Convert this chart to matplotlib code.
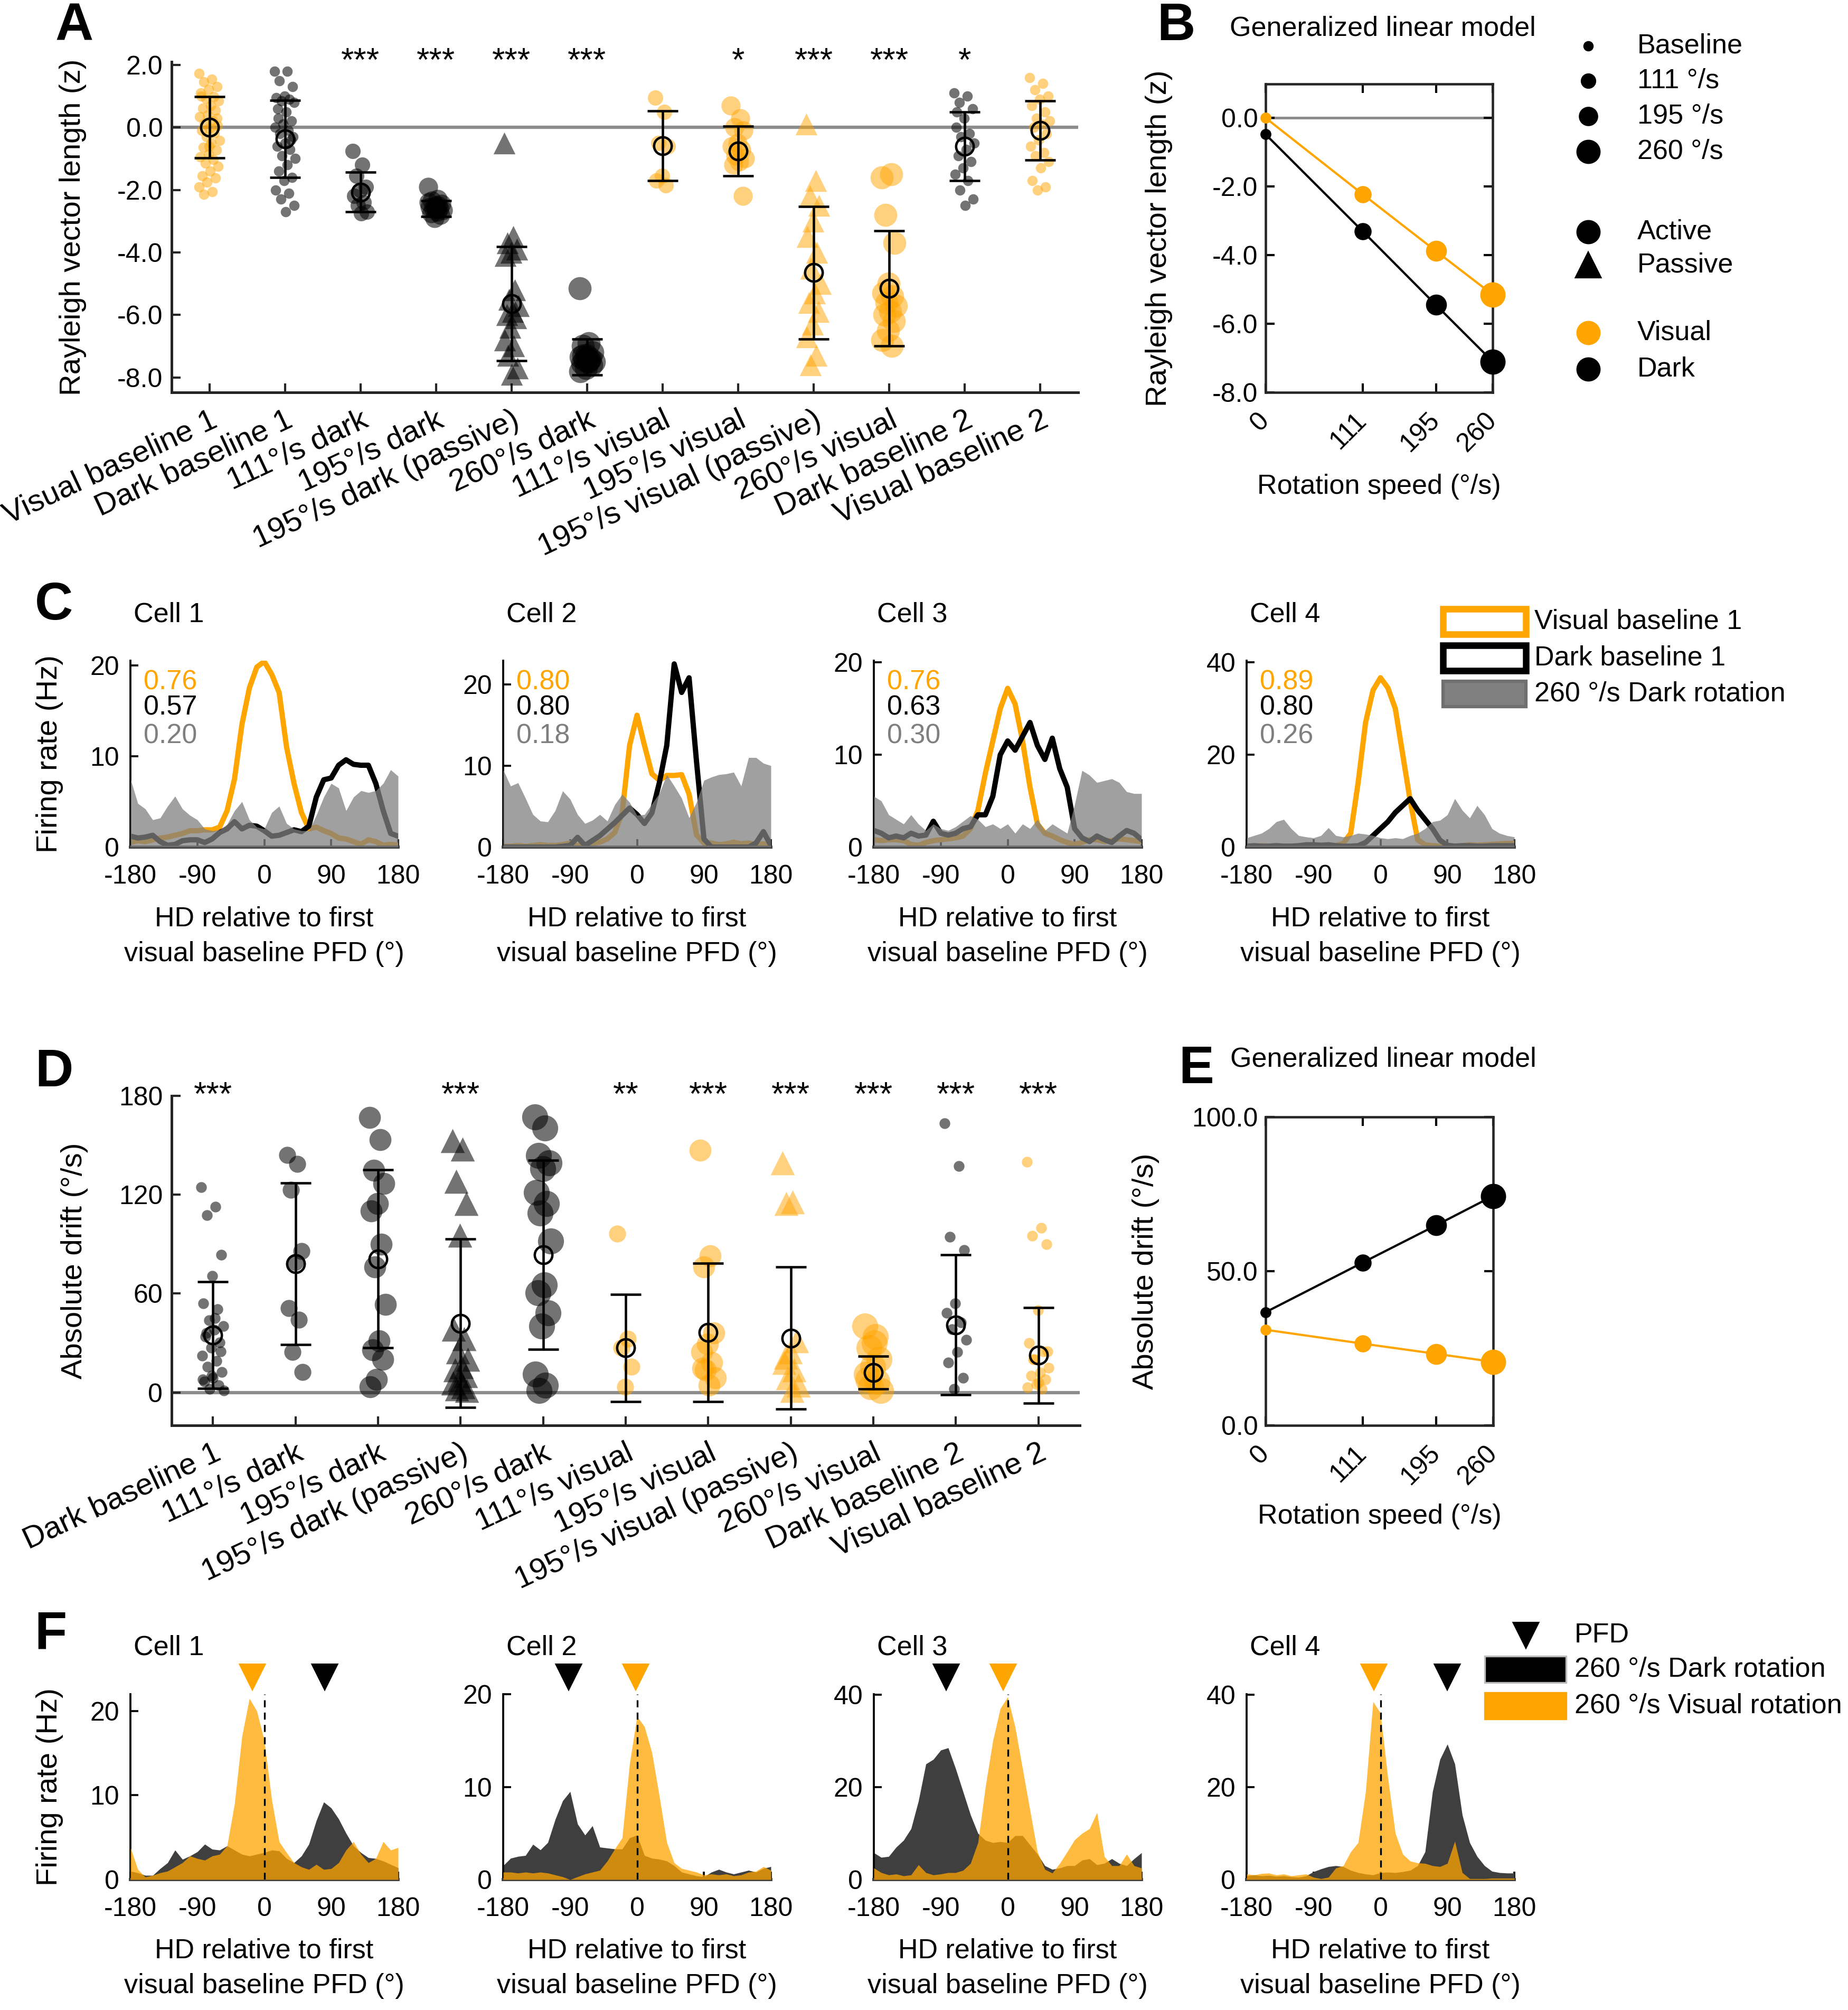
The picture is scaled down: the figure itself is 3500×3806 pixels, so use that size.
import numpy as np
import matplotlib
matplotlib.use("Agg")
import matplotlib.pyplot as plt
from matplotlib.lines import Line2D
from matplotlib.patches import Rectangle
from matplotlib.transforms import ScaledTranslation, blended_transform_factory

plt.rcParams['font.family'] = ['Liberation Sans', 'DejaVu Sans']
plt.rcParams['font.size'] = 12
plt.rcParams['axes.unicode_minus'] = False

ORANGE = '#FFA500'
AXC = '#262626'

# ---------------- panel A: Rayleigh vector length per condition
a_labels = ['Visual baseline 1', 'Dark baseline 1', '111°/s dark', '195°/s dark',
            '195°/s dark (passive)', '260°/s dark', '111°/s visual', '195°/s visual',
            '195°/s visual (passive)', '260°/s visual', 'Dark baseline 2', 'Visual baseline 2']
a_points = [
    [1.72, 1.55, 1.45, 1.3, 1.22, 1.1, 0.98, 0.92, 0.85, 0.7, 0.62, 0.55, 0.4, 0.35, 0.2, 0.12,
     0.05, -0.02, -0.1, -0.18, -0.3, -0.42, -0.5, -0.63, -0.72, -0.85, -0.95, -1.02, -1.15,
     -1.25, -1.4, -1.55, -1.62, -1.75, -1.9, -2.05, -2.15, 0.3, -0.6, 1.0],
    [1.8, 1.8, 1.5, 1.3, 1.0, 0.95, 0.9, 0.85, 0.8, 0.5, 0.3, 0.2, 0.1, 0.0, -0.1, -0.2, -0.3,
     -0.5, -0.6, -0.7, -0.9, -1.0, -1.2, -1.4, -1.6, -1.7, -2.0, -2.1, -2.3, -2.5, -2.7, 0.6, -0.4],
    [-0.75, -1.2, -1.55, -1.9, -2.0, -2.2, -2.4, -2.5, -2.7, -2.75],
    [-1.9, -2.3, -2.35, -2.45, -2.5, -2.55, -2.6, -2.6, -2.65, -2.7, -2.75, -2.8, -2.9, -2.4, -2.5],
    [-0.5, -3.5, -3.7, -3.9, -4.0, -4.1, -5.2, -5.5, -5.7, -5.9, -6.0, -6.1, -6.4, -6.8, -7.0,
     -7.3, -7.7, -7.9],
    [-5.15, -6.9, -7.0, -7.2, -7.3, -7.35, -7.4, -7.45, -7.5, -7.5, -7.55, -7.6, -7.7, -7.8,
     -7.45, -7.3],
    [0.95, 0.5, -0.5, -0.6, -1.55, -1.7, -1.85],
    [0.7, 0.3, 0.0, -0.1, -0.5, -0.6, -0.7, -0.9, -1.0, -1.1, -1.2, -2.2],
    [0.1, -1.7, -2.2, -2.5, -3.0, -3.5, -4.0, -4.5, -5.0, -5.3, -5.6, -5.9, -6.3, -6.7, -7.3, -7.6],
    [-1.6, -1.5, -2.8, -3.7, -5.0, -5.3, -5.4, -5.6, -5.7, -5.9, -6.0, -6.2, -6.5, -6.8, -7.0],
    [1.1, 1.0, 0.8, 0.6, 0.3, 0.0, -0.2, -0.3, -0.5, -0.7, -0.9, -1.1, -1.3, -1.5, -1.7, -2.0,
     -2.3, -2.5, 0.5],
    [1.6, 1.4, 1.2, 1.0, 0.9, 0.7, 0.5, 0.3, 0.2, 0.1, 0.0, -0.2, -0.4, -0.6, -0.8, -0.9, -1.1,
     -1.3, -1.7, -1.9, -2.0],
]
a_means = [0.0, -0.37, -2.07, -2.6, -5.64, -7.35, -0.59, -0.76, -4.65, -5.15, -0.6, -0.1]
a_sds = [0.98, 1.23, 0.63, 0.25, 1.82, 0.57, 1.11, 0.79, 2.12, 1.85, 1.1, 0.95]
a_stars = ['', '', '***', '***', '***', '***', '', '*', '***', '***', '*', '']
a_cond = ['vb', 'db', 'd111', 'd195', 'd195p', 'd260', 'v111', 'v195', 'v195p', 'v260', 'db', 'vb']

# ---------------- panel B: GLM fit
speeds = [0, 111, 195, 260]
b_visual = [0.0, -2.22, -3.88, -5.15]
b_dark = [-0.48, -3.3, -5.45, -7.1]

# ---------------- panel C: tuning curves, 10 deg bins
angles = np.arange(-180, 181, 10)
c_visual = [
    [0.5, 0.7, 0.6, 0.8, 1.0, 1.1, 1.3, 1.5, 1.8, 1.8, 1.9, 1.9, 2.2, 4.0, 7.5, 13.5, 17.5, 19.8,
     20.4, 19.0, 17.0, 11.0, 7.0, 3.8, 2.0, 2.2, 1.8, 1.5, 1.0, 0.9, 0.6, 0.3, 0.8, 0.6, 0.2, 0.3, 0.2],
    [0.1, 0.1, 0.2, 0.1, 0.2, 0.3, 0.2, 0.2, 0.3, 0.5, 0.2, 0.3, 0.5, 0.6, 1.0, 1.8, 4.2, 12.5,
     16.2, 12.5, 9.0, 8.2, 8.8, 8.8, 8.9, 6.5, 1.5, 0.5, 0.5, 0.3, 0.4, 0.6, 0.4, 0.5, 0.3, 0.4, 0.2],
    [0.8, 0.7, 0.8, 0.8, 0.7, 0.3, 0.2, 0.5, 0.7, 0.8, 0.9, 1.0, 1.2, 2.0, 4.0, 8.0, 11.5, 15.0,
     17.2, 15.5, 11.5, 6.5, 2.5, 1.5, 1.2, 0.8, 0.5, 0.3, 0.5, 0.8, 0.8, 0.6, 0.7, 0.9, 0.8, 0.7, 0.6],
    [0.3, 0.0, 0.3, 0.2, 0.3, 0.2, 0.2, 0.3, 0.2, 0.3, 0.2, 0.3, 0.3, 0.8, 3.0, 14.0, 27.0, 34.0,
     36.7, 34.5, 30.0, 20.0, 10.0, 1.6, 0.5, 0.3, 0.2, 0.0, 0.2, 0.3, 0.5, 0.4, 0.5, 0.6, 0.7, 0.8, 0.8],
]
c_dark = [
    [1.2, 1.0, 1.1, 1.3, 0.6, 0.2, 0.3, 0.7, 0.8, 0.8, 0.5, 0.9, 1.6, 2.0, 2.8, 2.0, 2.4, 2.3,
     1.8, 1.2, 1.3, 1.6, 1.9, 1.7, 2.3, 5.5, 7.4, 7.6, 9.0, 9.6, 9.1, 9.0, 9.0, 7.0, 4.0, 1.5, 1.2],
    [0.0, 0.0, 0.0, 0.0, 0.0, 0.0, 0.0, 0.0, 0.1, 0.2, 1.2, 0.2, 0.8, 1.4, 2.2, 3.0, 3.9, 4.8,
     4.0, 2.9, 4.2, 7.9, 12.5, 22.5, 19.0, 20.8, 10.5, 1.0, 0.0, 0.0, 0.0, 0.0, 0.0, 0.0, 0.5, 1.9, 0.2],
    [1.8, 1.5, 1.0, 1.2, 1.0, 1.5, 1.2, 1.3, 2.8, 1.5, 1.3, 1.5, 2.0, 2.2, 3.5, 3.5, 5.5, 10.0,
     11.5, 10.5, 12.0, 13.5, 11.0, 9.5, 11.8, 8.5, 6.5, 2.0, 1.0, 0.6, 1.2, 0.8, 0.5, 1.2, 1.8, 1.5, 0.8],
    [0.2, 0.3, 0.2, 0.2, 0.3, 0.2, 0.2, 0.3, 0.5, 0.5, 0.4, 0.5, 0.3, 0.2, 0.2, 0.3, 1.0, 2.5,
     4.0, 5.5, 7.5, 9.0, 10.5, 8.0, 6.0, 4.0, 1.5, 0.4, 0.2, 0.3, 0.3, 0.2, 0.2, 0.3, 0.3, 0.3, 0.3],
]
c_rot = [
    [7.5, 4.8, 4.2, 3.0, 3.2, 4.5, 5.6, 4.2, 3.5, 3.0, 2.0, 1.8, 1.9, 2.5, 4.0, 5.0, 3.0, 2.2,
     2.0, 3.8, 4.5, 2.6, 2.0, 1.8, 1.8, 3.5, 5.5, 7.0, 6.5, 4.0, 5.5, 6.2, 6.0, 6.2, 7.0, 8.5, 7.8],
    [9.5, 7.5, 7.9, 6.0, 4.0, 3.2, 3.1, 4.5, 6.9, 5.9, 4.0, 2.9, 3.3, 4.0, 3.2, 5.2, 6.5, 5.5,
     3.9, 4.0, 5.3, 6.6, 8.9, 7.5, 6.0, 3.6, 5.5, 8.2, 8.6, 8.9, 9.0, 9.2, 7.5, 11.0, 11.0, 10.3, 10.0],
    [5.5, 5.0, 3.5, 3.0, 2.5, 3.5, 2.5, 1.8, 2.5, 2.0, 1.8, 2.2, 2.8, 3.4, 3.0, 2.2, 2.5, 2.0,
     2.5, 1.5, 2.5, 2.0, 3.0, 1.8, 2.5, 2.0, 1.5, 4.6, 8.3, 7.8, 7.0, 7.2, 7.4, 7.0, 6.0, 5.8, 5.8],
    [2.0, 2.5, 3.0, 4.0, 5.5, 6.0, 4.0, 2.5, 2.2, 2.0, 2.5, 4.2, 2.5, 2.2, 2.5, 3.0, 2.8, 2.5,
     2.0, 1.8, 2.0, 1.8, 2.5, 3.0, 4.0, 5.5, 5.8, 7.0, 10.5, 8.0, 6.3, 9.0, 7.0, 4.0, 3.0, 2.5, 2.2],
]
c_scores = [('0.76', '0.57', '0.20'), ('0.80', '0.80', '0.18'),
            ('0.76', '0.63', '0.30'), ('0.89', '0.80', '0.26')]
c_ylim = [20.5, 22.9, 20.2, 40.4]
c_yticks = [[0, 10, 20], [0, 10, 20], [0, 10, 20], [0, 20, 40]]

# ---------------- panel D: absolute drift per condition
d_labels = ['Dark baseline 1', '111°/s dark', '195°/s dark', '195°/s dark (passive)',
            '260°/s dark', '111°/s visual', '195°/s visual', '195°/s visual (passive)',
            '260°/s visual', 'Dark baseline 2', 'Visual baseline 2']
d_points = [
    [124.6, 112.7, 107.7, 83.5, 70.7, 53.9, 50.5, 43.8, 40.4, 38, 33.7, 30.3, 27, 22.4, 19, 15.7,
     12.3, 9, 6.7, 4.5, 2.2, 1.1, 45, 36, 25, 10, 8],
    [144, 138.7, 123, 85.7, 79, 51, 44, 24.7, 12.3],
    [166.8, 153.3, 134.7, 126.8, 114.5, 110, 89.8, 76.3, 53.4, 31.4, 25.8, 20.2, 7.9, 3.4],
    [152.6, 147.7, 128, 114.5, 95.4, 38.2, 32.5, 24.7, 20.2, 15.7, 13.5, 10.1, 7.9, 5.6, 3.4,
     2.2, 1.1],
    [167.2, 160.5, 143.7, 139.2, 135.8, 121.2, 114.5, 108.9, 92, 65.1, 60.6, 48.3, 40.4, 11.2,
     4.5, 1.1],
    [96.5, 32.5, 27, 15.7, 3.4],
    [147, 83, 76.3, 36, 29.2, 24.7, 18, 13.5, 9, 4.5, 14.6],
    [139.2, 115.6, 114.5, 31.4, 24.7, 18, 13.5, 9, 4.5, 1.1, 21.3],
    [40.4, 33.7, 27, 20.2, 15.7, 11.2, 6.7, 3.4, 1.1, 30, 8],
    [163.2, 137.4, 94.3, 86.4, 53.9, 48.3, 42.6, 38.2, 31.9, 24.7, 18, 9, 2.2],
    [140, 100, 95, 90, 50, 30, 25, 20, 15, 12, 10, 8, 5, 3, 2, 20, 25, 6],
]
d_means = [34.8, 78, 81, 42, 83.5, 27, 36.4, 33, 12, 41, 22.5]
d_sds = [32.3, 49, 54, 51, 57.5, 32.5, 42, 43, 10, 42.5, 29]
d_stars = ['***', '', '', '***', '', '**', '***', '***', '***', '***', '***']
d_cond = ['db', 'd111', 'd195', 'd195p', 'd260', 'v111', 'v195', 'v195p', 'v260', 'db', 'vb']

# ---------------- panel E: GLM fit of drift
e_dark = [36.7, 52.8, 64.9, 74.4]
e_visual = [31.0, 26.5, 23.2, 20.6]

# ---------------- panel F: 260 deg/s rotation tuning curves
f_dark = [
    [1.0, 0.8, 0.5, 0.5, 1.3, 2.0, 3.5, 2.4, 2.8, 3.3, 4.2, 3.6, 3.5, 4.0, 3.5, 3.0, 2.8, 3.0,
     3.2, 3.5, 3.4, 2.5, 2.0, 2.8, 4.2, 7.0, 9.2, 8.5, 7.2, 5.5, 4.0, 3.2, 2.6, 2.5, 2.2, 1.8, 1.4],
    [1.5, 2.3, 2.5, 2.6, 3.8, 3.2, 4.0, 6.5, 8.5, 9.5, 6.0, 4.8, 5.8, 3.5, 3.4, 3.3, 3.3, 4.5,
     4.8, 2.6, 2.3, 2.2, 2.0, 1.5, 0.8, 0.6, 0.4, 0.3, 0.8, 1.1, 0.8, 0.6, 0.8, 1.0, 0.8, 1.2, 1.4],
    [5.8, 4.8, 5.0, 7.0, 8.5, 11.0, 17.0, 25.0, 26.0, 28.0, 28.5, 24.0, 19.0, 14.0, 10.0, 8.5,
     8.0, 8.2, 8.0, 9.5, 9.5, 7.5, 5.5, 3.0, 2.2, 2.5, 3.0, 3.0, 4.2, 4.5, 3.2, 3.5, 4.5, 3.5, 3.0, 4.5, 5.8],
    [0.8, 1.0, 0.8, 0.9, 0.7, 0.8, 0.6, 0.5, 0.8, 1.7, 2.3, 2.8, 3.0, 2.8, 2.0, 1.5, 1.2, 1.0,
     1.5, 1.6, 1.5, 1.7, 2.0, 3.0, 6.0, 19.0, 26.0, 29.3, 25.0, 14.0, 8.0, 5.0, 3.0, 1.8, 1.5, 1.4, 1.4],
]
f_visual = [
    [3.8, 1.2, 0.3, 0.5, 0.8, 1.0, 1.5, 2.0, 2.8, 2.5, 2.3, 2.8, 3.0, 4.0, 9.0, 17.0, 21.5, 20.0,
     16.5, 9.5, 4.5, 3.2, 2.0, 1.5, 1.2, 1.8, 1.2, 1.3, 2.0, 3.5, 4.5, 3.0, 2.0, 2.5, 4.5, 3.5, 3.8],
    [0.8, 0.8, 0.7, 0.8, 0.7, 0.8, 0.7, 0.5, 0.3, 0.0, 0.3, 0.6, 0.8, 1.0, 2.0, 3.3, 4.5, 12.5,
     17.6, 16.5, 13.7, 9.0, 4.0, 1.8, 1.2, 1.0, 0.8, 0.5, 0.6, 0.5, 0.6, 0.4, 0.5, 0.8, 0.9, 1.4, 1.0],
    [2.5, 1.5, 1.0, 1.2, 0.8, 1.0, 3.2, 1.5, 1.0, 1.2, 1.5, 1.5, 2.0, 3.5, 8.0, 20.0, 30.0, 37.0,
     39.5, 33.0, 24.0, 15.0, 6.0, 2.2, 1.4, 3.5, 6.0, 8.6, 10.0, 11.0, 14.5, 5.0, 3.0, 3.0, 5.5, 3.0, 2.5],
    [1.2, 1.0, 1.3, 1.4, 1.0, 1.2, 0.8, 1.0, 1.2, 0.5, 0.2, 0.5, 2.5, 3.0, 6.0, 8.0, 19.0, 38.5,
     36.0, 22.0, 10.0, 5.5, 4.0, 3.6, 3.5, 3.0, 2.8, 3.5, 8.3, 1.5, 0.2, 0.2, 0.2, 0.3, 0.3, 0.3, 0.3],
]
f_pfd_visual = [-16, -2, -6, -9]
f_pfd_dark = [81, -92, -83, 90]
f_ylim = [22, 20, 40.1, 40.1]
f_yticks = [[0, 10, 20], [0, 10, 20], [0, 20, 40], [0, 20, 40]]

# ---------------- styles
COLOR = {'v': ORANGE, 'd': 'black'}
ALPHA = {'v': 0.5, 'd': 0.55}
A_SIZE = {'b': 22, '111': 49, '195': 76, '260': 110}
D_SIZE = {'b': 24, '111': 60, '195': 100, '260': 140}


def style_of(cond):
    col = cond[0]
    if cond[1] == 'b':
        key = 'b'
    else:
        key = cond[1:4]
    marker = '^' if cond.endswith('p') else 'o'
    return col, key, marker


def jitter(n, w):
    return ((np.arange(n) * 0.618034) % 1.0 - 0.5) * 2 * w


W, H = 3500, 3806
fig = plt.figure(figsize=(W / 300, H / 300), dpi=300)


def frac(x0, y0, x1, y1):
    # full pixel box -> figure fraction rect
    return [x0 / W, 1 - y1 / H, (x1 - x0) / W, (y1 - y0) / H]


def dot_panel(ax, labels, points, means, sds, conds, sizes, stars, star_y, tri_scale):
    x = np.arange(1, len(labels) + 1)
    ax.axhline(0, color='#8c8c8c', lw=1.5, zorder=1)
    for i, vals in enumerate(points):
        col, key, marker = style_of(conds[i])
        s = sizes[key] * (tri_scale if marker == '^' else 1.0)
        w = 0.14 if key == 'b' else 0.1
        ax.scatter(x[i] + jitter(len(vals), w), vals, s=s, marker=marker,
                   color=COLOR[col], alpha=ALPHA[col], linewidths=0, zorder=2)
    ax.errorbar(x, means, yerr=sds, fmt='o', color='k', mfc='none', mec='k', mew=1.1, ms=8,
                elinewidth=1.1, capsize=7, capthick=1.1, zorder=4)
    for i, s in enumerate(stars):
        if s:
            ax.text(x[i], star_y, s, ha='center', va='baseline', fontsize=15, clip_on=False)
    ax.set_xlim(0.5, len(labels) + 0.5)
    ax.set_xticks(x)
    ax.set_xticklabels(labels, rotation=25, ha='right', va='top', rotation_mode='anchor',
                       fontsize=14)
    for lab in ax.get_xticklabels():
        lab.set_transform(lab.get_transform() + ScaledTranslation(0.045, 0, fig.dpi_scale_trans))
    for side in ['top', 'right']:
        ax.spines[side].set_visible(False)
    for side in ['left', 'bottom']:
        ax.spines[side].set_color(AXC)
        ax.spines[side].set_linewidth(1.2)
    ax.tick_params(direction='in', length=4, width=1, colors=AXC, labelcolor='k', labelsize=12)
    ax.tick_params(axis='x', pad=6, labelsize=14)
    ax.tick_params(axis='y', pad=4)


# ---------------- A
axA = fig.add_axes(frac(325, 117, 2042, 743))
dot_panel(axA, a_labels, a_points, a_means, a_sds, a_cond, A_SIZE, a_stars, 1.81, 1.3)
axA.set_ylim(-8.48, 2.1)
axA.set_yticks(np.arange(-8, 2.1, 2))
axA.set_yticklabels(['%.1f' % v for v in np.arange(-8, 2.1, 2)])
axA.set_ylabel('Rayleigh vector length (z)', fontsize=13.5)
axA.yaxis.set_label_coords(-0.094, 0.5)


def glm_panel(ax, dark, visual, ylim, yticks, fmt):
    ms = [4, 6.8, 8.5, 10.5]
    ax.plot(speeds, dark, color='k', lw=1, zorder=2, clip_on=False)
    ax.plot(speeds, visual, color=ORANGE, lw=1, zorder=2, clip_on=False)
    for i, sp in enumerate(speeds):
        ax.plot(sp, dark[i], 'o', color='k', ms=ms[i], zorder=3, clip_on=False)
        ax.plot(sp, visual[i], 'o', color=ORANGE, ms=ms[i], zorder=3, clip_on=False)
    ax.set_xlim(0, 260)
    ax.set_ylim(*ylim)
    ax.set_xticks(speeds)
    ax.set_xticklabels([str(s) for s in speeds], rotation=45, ha='right', va='center',
                       rotation_mode='anchor')
    for lab in ax.get_xticklabels():
        lab.set_transform(lab.get_transform() + ScaledTranslation(0.11, 0, fig.dpi_scale_trans))
    ax.set_yticks(yticks)
    ax.set_yticklabels([fmt % v for v in yticks])
    ax.tick_params(direction='in', length=4, width=1, top=True, right=True, labelsize=12)
    ax.tick_params(axis='x', pad=11)
    for sp in ax.spines.values():
        sp.set_linewidth(1.1)
        sp.set_color(AXC)
    ax.text(0.5, -0.305, 'Rotation speed (°/s)', transform=ax.transAxes, ha='center',
            va='center', fontsize=12.5)


# ---------------- B
axB = fig.add_axes(frac(2397, 159, 2827, 743))
axB.axhline(0, color='#8c8c8c', lw=1.2, zorder=1)
glm_panel(axB, b_dark, b_visual, (-8, 0.99), [-8, -6, -4, -2, 0], '%.1f')
axB.set_ylabel('Rayleigh vector length (z)', fontsize=13.5)
axB.yaxis.set_label_coords(-0.41, 0.5)
fig.text(2329 / W, 1 - 54 / H, 'Generalized linear model', ha='left', va='center', fontsize=12.5)

# B legend
leg_x, txt_x = 3008 / W, 3101 / W
leg_rows = [(87, 'Baseline', 'o', 'k', 3.7), (153, '111 °/s', 'o', 'k', 6),
            (220, '195 °/s', 'o', 'k', 7.8), (287, '260 °/s', 'o', 'k', 10),
            (439, 'Active', 'o', 'k', 10), (502, 'Passive', '^', 'k', 11),
            (630, 'Visual', 'o', ORANGE, 10), (699, 'Dark', 'o', 'k', 10)]
for yy, txt, mk, col, ms in leg_rows:
    fig.add_artist(Line2D([leg_x], [1 - yy / H], marker=mk, color=col, ms=ms, lw=0,
                          transform=fig.transFigure))
    fig.text(txt_x, 1 - yy / H, txt, ha='left', va='center', fontsize=12.5)


def tuning_axes(ax, ylim, yticks):
    ax.set_xlim(-180, 180)
    ax.set_ylim(0, ylim)
    ax.set_xticks([-180, -90, 0, 90, 180])
    ax.set_yticks(yticks)
    for side in ['top', 'right']:
        ax.spines[side].set_visible(False)
    ax.spines['left'].set_linewidth(0.9)
    ax.spines['bottom'].set_linewidth(1.4)
    ax.spines['bottom'].set_color('#3a3a3a')
    ax.tick_params(direction='in', length=3.5, width=0.9, labelsize=12)
    ax.tick_params(axis='x', pad=8)
    ax.tick_params(axis='y', pad=5)
    ax.text(0.5, -0.48, 'HD relative to first\nvisual baseline PFD (°)', transform=ax.transAxes,
            ha='center', va='center', fontsize=12.5, linespacing=1.45)


c_lefts = [247, 953, 1655, 2361]

# ---------------- C
for k in range(4):
    ax = fig.add_axes(frac(c_lefts[k], 1251, c_lefts[k] + 507, 1604))
    ax.plot(angles, c_visual[k], color=ORANGE, lw=2.4, zorder=2)
    ax.plot(angles, c_dark[k], color='k', lw=2.4, zorder=2)
    ax.fill_between(angles, 0, c_rot[k], color='#808080', alpha=0.75, lw=0, zorder=3)
    tuning_axes(ax, c_ylim[k], c_yticks[k])
    for j, (col, yy) in enumerate(zip([ORANGE, 'k', '#7f7f7f'], [0.884, 0.748, 0.595])):
        ax.text(0.05, yy, c_scores[k][j], color=col, transform=ax.transAxes, ha='left',
                va='center', fontsize=12.5)
    fig.text((c_lefts[k] + 6) / W, 1 - 1164 / H, 'Cell %d' % (k + 1), ha='left', va='center',
             fontsize=12.5)
    if k == 0:
        ax.set_ylabel('Firing rate (Hz)', fontsize=13.5)
        ax.yaxis.set_label_coords(-0.25, 0.5)

# C legend
for yy, txt, kind in [(1177, 'Visual baseline 1', 'o'), (1246, 'Dark baseline 1', 'k'),
                      (1314, '260 °/s Dark rotation', 'g')]:
    yc = 1 - yy / H
    if kind == 'g':
        r = Rectangle((2733 / W, yc - 24 / H), 157 / W, 48 / H, facecolor='#808080',
                      edgecolor='#6f6f6f', lw=1.5, transform=fig.transFigure)
    else:
        r = Rectangle((2733 / W, yc - 24 / H), 157 / W, 48 / H, facecolor='white',
                      edgecolor=ORANGE if kind == 'o' else 'k', lw=3, transform=fig.transFigure)
    fig.add_artist(r)
    fig.text(2906 / W, yc, txt, ha='left', va='center', fontsize=12.5)

# ---------------- D
axD = fig.add_axes(frac(325, 2075, 2045, 2699))
dot_panel(axD, d_labels, d_points, d_means, d_sds, d_cond, D_SIZE, d_stars, 174.5, 1.2)
axD.set_ylim(-20, 180)
axD.set_yticks([0, 60, 120, 180])
axD.set_ylabel('Absolute drift (°/s)', fontsize=13.5)
axD.yaxis.set_label_coords(-0.092, 0.5)

# ---------------- E
axE = fig.add_axes(frac(2397, 2115, 2828, 2699))
glm_panel(axE, e_dark, e_visual, (0, 100), [0, 50, 100], '%.1f')
axE.texts[-1].set_position((0.5, -0.296))
axE.set_ylabel('Absolute drift (°/s)', fontsize=13.5)
axE.yaxis.set_label_coords(-0.466, 0.5)
fig.text(2330 / W, 1 - 2006 / H, 'Generalized linear model', ha='left', va='center', fontsize=12.5)

# ---------------- F
for k in range(4):
    ax = fig.add_axes(frac(c_lefts[k], 3208, c_lefts[k] + 507, 3559))
    ax.fill_between(angles, 0, f_dark[k], color='#3f3f3f', lw=0, zorder=2)
    ax.fill_between(angles, 0, f_visual[k], color=ORANGE, alpha=0.75, lw=0, zorder=3)
    ax.plot([0, 0], [0, f_ylim[k]], color='k', lw=0.8, ls=(0, (4, 3)), zorder=4)
    tuning_axes(ax, f_ylim[k], f_yticks[k])
    tr = blended_transform_factory(ax.transData, ax.transAxes)
    ax.plot(f_pfd_visual[k], 1.094, marker='v', ms=11, color=ORANGE, transform=tr, clip_on=False)
    ax.plot(f_pfd_dark[k], 1.094, marker='v', ms=11, color='k', transform=tr, clip_on=False)
    fig.text((c_lefts[k] + 6) / W, 1 - 3120 / H, 'Cell %d' % (k + 1), ha='left', va='center',
             fontsize=12.5)
    if k == 0:
        ax.set_ylabel('Firing rate (Hz)', fontsize=13.5)
        ax.yaxis.set_label_coords(-0.25, 0.5)

# F legend
fig.add_artist(Line2D([2890 / W], [1 - 3096 / H], marker='v', color='k', ms=11, lw=0,
                      transform=fig.transFigure))
fig.text(2982 / W, 1 - 3096 / H, 'PFD', ha='left', va='center', fontsize=12.5)
for yy, txt, col in [(3161, '260 °/s Dark rotation', 'black'),
                     (3230, '260 °/s Visual rotation', ORANGE)]:
    yc = 1 - yy / H
    fig.add_artist(Rectangle((2812 / W, yc - 25 / H), 154 / W, 50 / H, facecolor=col,
                             edgecolor='#bbbbbb' if col == 'black' else col, lw=0.8,
                             transform=fig.transFigure))
    fig.text(2982 / W, yc, txt, ha='left', va='center', fontsize=12.5)

# ---------------- panel letters
for lx, ly, letter in [(141, 50, 'A'), (2227, 50, 'B'), (102, 1147, 'C'), (102, 2031, 'D'),
                       (2266, 2025, 'E'), (96, 3095, 'F')]:
    fig.text(lx / W, 1 - ly / H, letter, ha='center', va='center', fontsize=24,
             fontweight='bold')

fig.savefig('out.png', dpi=300)
